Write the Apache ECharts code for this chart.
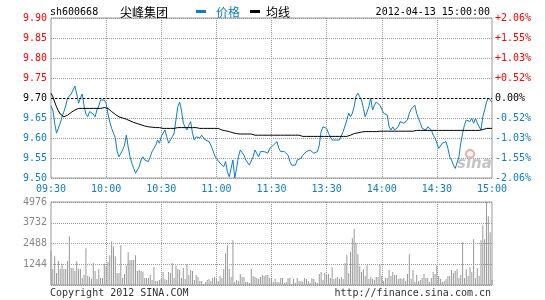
<!DOCTYPE html>
<html><head><meta charset="utf-8">
<script src="https://cdn.jsdelivr.net/npm/echarts@6/dist/echarts.min.js"></script>
<style>html,body{margin:0;padding:0;background:#fff}#c{width:545px;height:300px}</style>
</head><body><div id="c"></div>
<script>
const stockCode = 'sh600668';
const stockName = '尖峰集团';
const stamp = '2012-04-13 15:00:00';
const prevClose = 9.70;
const tickIdx = [0, 30, 60, 90, 120, 150, 180, 210, 240];
const tickText = ['09:30','10:00','10:30','11:00','11:30','13:30','14:00','14:30','15:00'];
const volTicks = [1244, 2488, 3732, 4976];

const price = [
9.68,9.67,9.637,9.612,9.61,9.637,9.653,9.666,9.68,9.70,
9.70,9.71,9.72,9.73,9.71,9.687,9.70,9.71,9.68,9.66,
9.653,9.666,9.67,9.66,9.653,9.67,9.68,9.695,9.70,9.695,
9.687,9.66,9.64,9.624,9.612,9.60,9.566,9.553,9.553,9.57,
9.582,9.607,9.578,9.553,9.537,9.524,9.512,9.512,9.528,9.545,
9.553,9.545,9.549,9.541,9.553,9.566,9.574,9.582,9.595,9.587,
9.603,
9.612,9.62,9.603,9.587,9.595,9.603,9.612,9.645,9.678,9.69,
9.67,9.637,9.628,9.62,9.632,9.641,9.612,9.595,9.603,9.607,
9.60,9.607,9.607,9.595,9.591,9.591,9.582,9.57,9.557,9.549,
9.545,9.537,9.532,9.528,9.541,9.516,9.503,9.524,9.545,9.50,
9.524,9.553,9.57,9.57,9.557,9.545,9.541,9.532,9.532,9.553,
9.57,9.566,9.553,9.566,9.562,9.566,9.57,9.562,9.574,9.578,
9.582,9.587,9.591,9.574,9.566,9.57,9.566,9.566,9.557,9.541,
9.532,9.537,9.532,9.545,9.541,9.549,9.557,9.562,9.566,9.57,
9.57,9.566,9.562,9.557,9.566,9.582,9.616,9.628,9.632,9.624,
9.612,9.603,9.595,9.60,9.595,9.591,9.595,9.60,9.616,9.62,
9.645,9.662,9.653,9.662,9.678,9.705,9.712,9.703,9.695,9.674,
9.653,9.653,9.678,9.70,9.67,9.682,9.69,9.687,9.682,9.678,
9.662,9.662,9.657,9.628,9.62,9.628,9.62,9.62,9.628,9.641,
9.641,9.637,9.632,9.645,9.662,9.672,9.674,9.682,9.662,9.649,
9.637,9.624,9.628,9.62,9.628,9.632,9.62,9.607,9.60,9.595,
9.574,9.574,9.587,9.591,9.591,9.574,9.553,9.545,9.532,9.524,
9.528,9.553,9.587,9.612,9.632,9.645,9.649,9.641,9.649,9.637,
9.649,9.637,9.641,9.62,9.653,9.67,9.69,9.70,9.70,9.69
];

const avgLine = [
9.712,9.703,9.690,9.678,9.668,9.660,9.655,9.653,9.655,9.657,9.662,9.664,9.667,9.670,9.672,
9.674,9.674,9.674,9.674,9.674,9.674,9.674,9.674,9.674,9.674,9.674,9.674,9.674,
9.675,9.676,9.676,
9.674,9.670,9.666,9.662,9.659,9.657,9.653,9.650,9.650,9.648,9.647,9.645,9.643,9.641,9.639,
9.637,9.636,9.635,9.633,9.631,9.630,9.629,9.628,9.628,9.627,9.627,9.626,9.626,9.626,9.625,
9.624,9.624,9.624,9.624,9.624,9.624,9.624,
9.626,9.626,9.626,9.626,9.626,9.626,9.626,9.626,9.626,9.626,9.626,9.626,9.626,
9.624,9.624,9.624,9.624,9.624,9.624,9.624,9.624,9.624,9.624,9.624,
9.622,9.620,9.619,9.618,9.617,9.616,9.615,9.613,9.612,9.611,
9.610,9.610,9.610,9.610,9.610,9.610,9.610,9.610,9.610,
9.607,9.607,9.607,9.607,9.607,9.607,9.607,9.607,9.607,9.607,9.607,9.607,9.607,
9.607,9.607,9.607,9.607,9.607,9.607,9.607,9.607,9.607,9.607,9.607,9.607,
9.604,9.604,9.604,9.604,9.604,9.604,9.604,9.604,9.604,9.604,9.604,9.604,9.604,
9.604,9.604,9.604,9.604,9.604,9.604,9.604,9.604,9.604,9.604,9.604,9.604,9.604,
9.606,9.607,9.609,9.611,9.612,9.613,9.614,9.615,
9.616,9.616,9.616,9.616,9.616,9.616,9.616,9.616,9.616,
9.617,9.617,9.617,9.617,9.617,9.617,9.617,9.617,9.617,9.617,
9.617,9.617,9.617,9.617,9.617,9.617,9.617,9.617,9.617,
9.619,9.619,9.619,9.619,9.619,9.619,9.619,9.619,9.619,9.619,
9.619,9.619,9.619,9.619,9.619,9.619,9.619,9.619,9.619,9.619,
9.619,9.619,9.619,9.619,9.619,9.619,9.619,9.619,9.619,9.619,
9.619,9.619,9.619,9.619,9.619,9.619,9.619,
9.621,9.622,9.624,9.624,9.624,9.624
];

const volume = [
2050,955,1731,716,1433,955,1293,955,955,1433,
2925,1015,1015,836,1433,955,955,418,597,2209,
537,478,358,1313,836,358,955,418,418,1293,
1134,1373,1791,2627,2328,1731,716,716,2388,418,
657,1174,1970,1493,1493,1493,1791,836,896,836,
776,418,418,418,597,299,1075,239,239,299,
358,
776,358,299,776,716,1313,418,1134,955,896,
418,1015,358,1254,597,896,836,299,597,478,
239,239,60,179,299,358,239,418,478,418,
239,537,418,955,1900,2388,955,478,2687,179,
299,239,657,478,478,179,179,119,955,537,
478,418,358,478,597,537,597,597,418,358,
180,360,180,180,420,420,120,180,420,420,
60,360,120,420,240,240,180,420,360,240,
120,420,360,180,120,660,780,300,720,600,
660,420,1070,360,420,480,360,480,360,1300,
1800,700,2000,2800,3350,2500,1850,1130,780,950,
540,1190,360,480,360,300,480,480,1250,540,
240,420,420,900,540,780,600,600,360,420,
360,420,240,660,1850,360,900,180,600,240,
300,420,660,420,420,180,420,780,660,1190,
540,360,180,240,360,540,540,900,720,840,
950,420,600,2570,420,950,540,1070,780,2750,
420,1010,540,2690,3580,2750,4976,4120,3160,300
];

// time categories (one per trading minute)
const times = [];
function pad(n){ return (n < 10 ? '0' : '') + n; }
for (let m = 9*60+30; m <= 11*60+30; m++) times.push(pad(Math.floor(m/60)) + ':' + pad(m%60));
for (let m = 13*60+1; m <= 15*60; m++) times.push(pad(Math.floor(m/60)) + ':' + pad(m%60));

const BLUE = '#0f7cc6', RED = '#ff0000', GRID = '#999', BORDER = '#999';
const MONO = 'DejaVu Sans Mono';
const dotted = { color: GRID, type: [1, 1], width: 1 };

function sideColor(v) {
  if (Math.abs(v - prevClose) < 1e-6) return '#000';
  return v > prevClose ? RED : BLUE;
}

const chart = echarts.init(document.getElementById('c'), null, { renderer: 'canvas' });
chart.setOption({
  animation: false,
  backgroundColor: '#fff',
  grid: [
    { left: 51, right: 53, top: 18, height: 160, show: true, borderColor: BORDER, borderWidth: 1, backgroundColor: 'transparent' },
    { left: 51, right: 53, top: 202, height: 83, show: true, borderColor: BORDER, borderWidth: 1, backgroundColor: 'transparent' }
  ],
  xAxis: [
    { type: 'category', gridIndex: 0, data: times, boundaryGap: false,
      axisLine: { show: false }, axisTick: { show: false },
      axisLabel: { interval: (i) => tickIdx.indexOf(i) >= 0,
        formatter: (v, i) => { const k = tickIdx.indexOf(i); return k >= 0 ? tickText[k] : ''; },
        color: BLUE, fontFamily: MONO, fontSize: 10, margin: 6, hideOverlap: false },
      splitLine: { show: true, interval: (i) => i % 30 === 0 && i > 0 && i < 240, lineStyle: dotted } },
    { type: 'category', gridIndex: 1, data: times, boundaryGap: false,
      axisLine: { show: false }, axisTick: { show: false }, axisLabel: { show: false },
      splitLine: { show: true, interval: (i) => i % 30 === 0 && i > 0 && i < 240, lineStyle: dotted } }
  ],
  yAxis: [
    { type: 'value', gridIndex: 0, min: 9.5, max: 9.9, interval: 0.05, position: 'left',
      axisLine: { show: false }, axisTick: { show: false },
      axisLabel: { formatter: (v) => v.toFixed(2), color: (v) => sideColor(+v),
        fontFamily: MONO, fontSize: 10, margin: 4 },
      splitLine: { show: true, lineStyle: dotted } },
    { type: 'value', gridIndex: 0, min: 9.5, max: 9.9, interval: 0.05, position: 'right',
      axisLine: { show: false }, axisTick: { show: false }, splitLine: { show: false },
      axisLabel: { formatter: (v) => {
          const p = (v - prevClose) / prevClose * 100;
          if (Math.abs(p) < 1e-6) return '0.00%';
          return (p > 0 ? '+' : '-') + Math.abs(p).toFixed(2) + '%';
        }, color: (v) => sideColor(+v), fontFamily: MONO, fontSize: 10, margin: 3 } },
    { type: 'value', gridIndex: 1, min: 0, max: 4976, interval: 1244, position: 'left',
      axisLine: { show: false }, axisTick: { show: false },
      axisLabel: { formatter: (v) => v === 0 ? '' : String(v), color: '#888', fontFamily: MONO, fontSize: 10, margin: 4 },
      splitLine: { show: true, lineStyle: dotted } }
  ],
  series: [
    { name: '价格', type: 'line', xAxisIndex: 0, yAxisIndex: 0, data: price, showSymbol: false, z: 3,
      lineStyle: { color: BLUE, width: 1 }, itemStyle: { color: BLUE },
      markLine: { silent: true, symbol: ['none', 'none'], label: { show: false },
        lineStyle: { color: '#000', type: [2, 2], width: 1 }, data: [{ yAxis: prevClose }] } },
    { name: '均线', type: 'line', xAxisIndex: 0, yAxisIndex: 0, data: avgLine, showSymbol: false, z: 4,
      lineStyle: { color: '#000', width: 1 }, itemStyle: { color: '#000' } },
    { name: '成交量', type: 'bar', xAxisIndex: 1, yAxisIndex: 2, data: volume, barWidth: 1,
      itemStyle: { color: '#999' } }
  ],
  graphic: [
    { type: 'text', z: 10, style: { x: 50, y: 12, text: stockCode, font: '10px "DejaVu Sans Mono"', fill: '#000', textAlign: 'left', textVerticalAlign: 'middle', align: 'left', verticalAlign: 'middle' } },
    { type: 'text', z: 10, style: { x: 120, y: 12, text: stockName, font: '12px "Noto Sans CJK SC"', fill: '#000', textAlign: 'left', textVerticalAlign: 'middle', align: 'left', verticalAlign: 'middle' } },
    { type: 'rect', z: 10, shape: { x: 196, y: 10, width: 10, height: 3 }, style: { fill: BLUE } },
    { type: 'text', z: 10, style: { x: 216, y: 12, text: '价格', font: '12px "Noto Sans CJK SC"', fill: BLUE, textAlign: 'left', textVerticalAlign: 'middle', align: 'left', verticalAlign: 'middle' } },
    { type: 'rect', z: 10, shape: { x: 250, y: 10, width: 10, height: 3 }, style: { fill: '#000' } },
    { type: 'text', z: 10, style: { x: 266, y: 12, text: '均线', font: '12px "Noto Sans CJK SC"', fill: '#000', textAlign: 'left', textVerticalAlign: 'middle', align: 'left', verticalAlign: 'middle' } },
    { type: 'text', z: 10, style: { x: 490, y: 12, text: stamp, font: '10px "DejaVu Sans Mono"', fill: '#000', textAlign: 'right', textVerticalAlign: 'middle', align: 'right', verticalAlign: 'middle' } },
    { type: 'text', z: 10, style: { x: 50, y: 293, text: 'Copyright 2012 SINA.COM', font: '10px "DejaVu Sans Mono"', fill: '#333', textAlign: 'left', textVerticalAlign: 'middle', align: 'left', verticalAlign: 'middle' } },
    { type: 'text', z: 10, style: { x: 491, y: 293, text: 'http://finance.sina.com.cn', font: '10px "DejaVu Sans Mono"', fill: '#333', textAlign: 'right', textVerticalAlign: 'middle', align: 'right', verticalAlign: 'middle' } },
    { type: 'circle', z: 1, shape: { cx: 470, cy: 154, r: 4 }, style: { fill: 'none', stroke: '#f2a6a6', lineWidth: 2 } },
    { type: 'text', z: 1, style: { x: 457, y: 164, text: 'sina', font: 'italic bold 15px "DejaVu Sans"', fill: '#c4c4c4', textAlign: 'left', textVerticalAlign: 'middle', align: 'left', verticalAlign: 'middle' } }
  ]
});
</script></body></html>
